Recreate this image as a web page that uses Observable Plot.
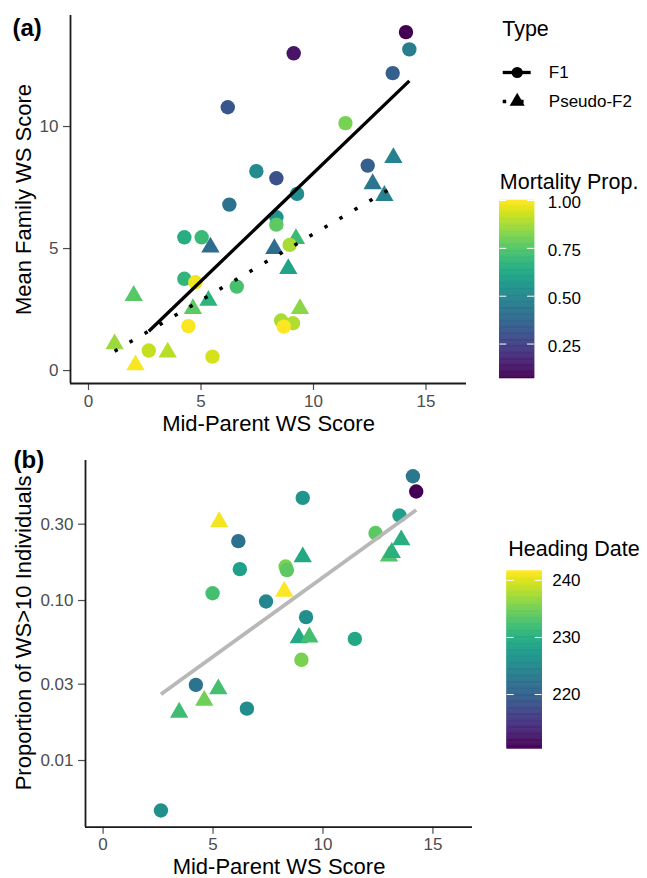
<!DOCTYPE html>
<html><head><meta charset="utf-8">
<script src="https://cdn.jsdelivr.net/npm/d3@7"></script>
<script src="https://cdn.jsdelivr.net/npm/@observablehq/plot@0.6"></script>
<style>
body{margin:0;background:#fff;}
#root{position:relative;width:647px;height:878px;overflow:hidden;background:#fff;}
#root > svg{position:absolute;}
</style></head><body><div id="root"></div>
<script>
// ---------- Panel (a) data ----------
const f1MidParent = [14.11, 9.12, 14.26, 13.52, 6.19, 11.42, 12.41, 7.46, 8.35, 9.27, 6.26, 8.35, 8.35, 4.26, 5.03, 8.94, 4.26, 4.75, 6.59, 4.44, 8.56, 9.09, 8.68, 2.68, 5.51];
const f1MeanWS    = [13.87, 13.0, 13.16, 12.19, 10.79, 10.14, 8.40, 8.17, 7.88, 7.24, 6.80, 6.28, 5.98, 5.46, 5.46, 5.15, 3.76, 3.62, 3.44, 1.82, 2.05, 1.94, 1.80, 0.82, 0.57];
const f1Mortality = [0.07, 0.12, 0.46, 0.35, 0.32, 0.81, 0.35, 0.51, 0.30, 0.52, 0.42, 0.54, 0.77, 0.65, 0.70, 0.88, 0.68, 0.98, 0.73, 0.99, 0.88, 0.89, 1.00, 0.92, 0.94];

const pf2MidParent = [13.55, 12.63, 13.15, 5.42, 8.26, 9.22, 8.88, 2.01, 5.33, 4.64, 9.40, 1.16, 3.52, 2.09];
const pf2MeanWS    = [8.72, 7.65, 7.17, 5.05, 4.99, 5.40, 4.17, 3.07, 2.87, 2.53, 2.53, 1.09, 0.75, 0.23];
const pf2Mortality = [0.48, 0.43, 0.48, 0.40, 0.40, 0.70, 0.61, 0.76, 0.67, 0.77, 0.84, 0.86, 0.90, 0.99];

// ---------- Panel (b) data ----------
const bF1MidParent = [14.09, 14.24, 9.08, 13.48, 12.39, 6.15, 6.22, 8.30, 8.36, 4.98, 7.41, 9.23, 11.45, 9.02, 4.22, 6.54, 2.63];
const bF1Prop      = [0.598, 0.48, 0.438, 0.34, 0.264, 0.235, 0.157, 0.163, 0.155, 0.111, 0.0986, 0.0787, 0.0576, 0.0426, 0.0297, 0.0211, 0.00487];
const bF1Heading   = [223, 210.5, 226.7, 228, 233.8, 222, 228, 235.4, 233.8, 232.3, 225, 226, 229.2, 235.4, 222.3, 225.7, 226];

const bPF2MidParent = [5.28, 9.08, 13.56, 13.0, 13.13, 8.24, 8.90, 9.38, 5.24, 4.60, 3.46];
const bPF2Prop      = [0.31, 0.187, 0.239, 0.189, 0.199, 0.114, 0.0584, 0.059, 0.028, 0.0237, 0.02];
const bPF2Heading   = [241, 229.2, 230.1, 233.2, 230.4, 241.6, 229.2, 232.3, 232.3, 234.8, 232];

// ---------- scales / ticks / labels ----------
const typeNames = ["F1", "Pseudo-F2"];
const xDomain = [-0.8, 16.8];
const yDomainA = [-0.53, 14.55];
const yDomainB = [0.00383, 0.75];
const xTicks = [0, 5, 10, 15];
const yTicksA = [0, 5, 10];
const yTicksB = [0.01, 0.03, 0.10, 0.30];
const mortDomain = [0.07, 1.0];
const mortTicks = [0.25, 0.50, 0.75, 1.00];
const headDomain = [210.5, 241.6];
const headTicks = [220, 230, 240];

const FONT = "'Liberation Sans', Arial, Helvetica, sans-serif";
const TICK_COL = "#4d4d4d";
const DOTTED = "3.5,13.9";

function olsLine(xs, ys, fy = v => v, inv = v => v) {
  const ly = ys.map(fy);
  const mx = d3.mean(xs), my = d3.mean(ly);
  let sxy = 0, sxx = 0;
  xs.forEach((x, i) => { sxy += (x - mx) * (ly[i] - my); sxx += (x - mx) ** 2; });
  const b = sxy / sxx, a = my - b * mx;
  const [x0, x1] = d3.extent(xs);
  return [{x: x0, y: inv(a + b * x0)}, {x: x1, y: inv(a + b * x1)}];
}
const rows = (xs, ys, cs) => xs.map((x, i) => ({x, y: ys[i], c: cs[i]}));

const root = document.getElementById("root");
function place(svg, left, top) { svg.style.left = left + "px"; svg.style.top = top + "px"; root.appendChild(svg); }
const baseStyle = {fontFamily: FONT, fontSize: "17px", background: "transparent", overflow: "visible"};

// ---------- Panel (a) ----------
const f1Rows = rows(f1MidParent, f1MeanWS, f1Mortality);
const pf2Rows = rows(pf2MidParent, pf2MeanWS, pf2Mortality);
const lineF1 = olsLine(f1MidParent, f1MeanWS);
const linePF2 = olsLine(pf2MidParent, pf2MeanWS);

const panelA = Plot.plot({
  width: 470, height: 440,
  marginLeft: 70, marginRight: 4, marginTop: 15, marginBottom: 57,
  style: baseStyle,
  x: {domain: xDomain},
  y: {domain: yDomainA},
  color: {type: "linear", scheme: "viridis", domain: mortDomain},
  marks: [
    Plot.dot(pf2Rows, {x: "x", y: "y", fill: "c", symbol: "triangle", r: 6.8}),
    Plot.dot(f1Rows, {x: "x", y: "y", fill: "c", symbol: "circle", r: 7.2}),
    Plot.line(lineF1, {x: "x", y: "y", stroke: "black", strokeWidth: 3.3, strokeLinecap: "butt"}),
    Plot.line(linePF2, {x: "x", y: "y", stroke: "black", strokeWidth: 3.5, strokeDasharray: DOTTED, strokeLinecap: "butt"}),
    Plot.axisX({ticks: xTicks, tickSize: 7, tickPadding: 4, fontSize: 17, color: TICK_COL, strokeWidth: 1.2, label: null}),
    Plot.axisY({ticks: yTicksA, tickSize: 7, tickPadding: 5, fontSize: 17, color: TICK_COL, strokeWidth: 1.2, label: null}),
    Plot.ruleX([xDomain[0]], {stroke: "#1a1a1a", strokeWidth: 1.8}),
    Plot.ruleY([yDomainA[0]], {stroke: "#1a1a1a", strokeWidth: 1.8}),
    Plot.text(["Mid-Parent WS Score"], {frameAnchor: "bottom", dy: 40, fontSize: 22, fill: "black", textAnchor: "middle", lineAnchor: "middle"}),
    Plot.text(["Mean Family WS Score"], {frameAnchor: "left", dx: -47, rotate: -90, fontSize: 22, fill: "black", textAnchor: "middle", lineAnchor: "middle"}),
    Plot.text(["(a)"], {frameAnchor: "top-left", dx: -58, dy: 3, fontSize: 24, fontWeight: "bold", fill: "black", textAnchor: "start", lineAnchor: "top"})
  ]
});
place(panelA, 0, 0);

// ---------- Panel (b) ----------
const bF1Rows = rows(bF1MidParent, bF1Prop, bF1Heading);
const bPF2Rows = rows(bPF2MidParent, bPF2Prop, bPF2Heading);
const lineB = olsLine([...bF1MidParent, ...bPF2MidParent], [...bF1Prop, ...bPF2Prop], Math.log10, v => Math.pow(10, v));

const panelB = Plot.plot({
  width: 480, height: 438,
  marginLeft: 85, marginRight: 8, marginTop: 20, marginBottom: 51.3,
  style: baseStyle,
  x: {domain: xDomain},
  y: {type: "log", domain: yDomainB},
  color: {type: "linear", scheme: "viridis", domain: headDomain},
  marks: [
    Plot.dot(bPF2Rows, {x: "x", y: "y", fill: "c", symbol: "triangle", r: 6.8}),
    Plot.dot(bF1Rows, {x: "x", y: "y", fill: "c", symbol: "circle", r: 7.2}),
    Plot.line(lineB, {x: "x", y: "y", stroke: "#b8b8b8", strokeWidth: 3.8, strokeLinecap: "butt"}),
    Plot.axisX({ticks: xTicks, tickSize: 7, tickPadding: 4, fontSize: 17, color: TICK_COL, strokeWidth: 1.2, label: null}),
    Plot.axisY({ticks: yTicksB, tickFormat: d3.format(".2f"), tickSize: 7, tickPadding: 5, fontSize: 17, color: TICK_COL, strokeWidth: 1.2, label: null}),
    Plot.ruleX([xDomain[0]], {stroke: "#1a1a1a", strokeWidth: 1.8}),
    Plot.ruleY([yDomainB[0]], {stroke: "#1a1a1a", strokeWidth: 1.8}),
    Plot.text(["Mid-Parent WS Score"], {frameAnchor: "bottom", dy: 39.5, fontSize: 22, fill: "black", textAnchor: "middle", lineAnchor: "middle"}),
    Plot.text(["Proportion of WS>10 Individuals"], {frameAnchor: "left", dx: -62, dy: -11, rotate: -90, fontSize: 22, fill: "black", textAnchor: "middle", lineAnchor: "middle"}),
    Plot.text(["(b)"], {frameAnchor: "top-left", dx: -72, dy: -10, fontSize: 24, fontWeight: "bold", fill: "black", textAnchor: "start", lineAnchor: "top"})
  ]
});
place(panelB, 0, 440);

// ---------- Type legend ----------
const legendType = Plot.plot({
  width: 157, height: 110, margin: 0,
  style: baseStyle,
  x: {domain: [0, 1], range: [12.7, 40.7], axis: null},
  y: {type: "point", domain: typeNames, range: [61.5, 91], padding: 0, axis: null},
  marks: [
    Plot.ruleY([typeNames[0]], {x1: 0, x2: 1, stroke: "black", strokeWidth: 3.3}),
    Plot.ruleY([typeNames[1]], {x1: 0, x2: 1, stroke: "black", strokeWidth: 3.5, strokeDasharray: DOTTED}),
    Plot.dot([typeNames[0]], {x: 0.5, y: d => d, symbol: "circle", r: 5.6, fill: "black"}),
    Plot.dot([typeNames[1]], {x: 0.5, y: d => d, symbol: "triangle", r: 5.6, fill: "black"}),
    Plot.text(typeNames, {x: 1, y: d => d, dx: 17.6, text: d => d, textAnchor: "start", fontSize: 17, fill: "black"}),
    Plot.text(["Type"], {frameAnchor: "top-left", dx: 11.7, dy: 25.7, lineAnchor: "bottom", textAnchor: "start", fontSize: 21.5, fill: "black"})
  ]
});
place(legendType, 490, 10);

// ---------- colour bars ----------
function colorbar(title, domain, ticks, fmt, opts) {
  const n = 150, [lo, hi] = domain;
  const bands = d3.range(n).map(i => ({y1: lo + (hi - lo) * i / n, y2: lo + (hi - lo) * (i + 1) / n, v: lo + (hi - lo) * (i + 0.5) / n}));
  return Plot.plot({
    width: 157, height: opts.height, margin: 0,
    style: baseStyle,
    x: {domain: [0, 1], range: opts.xr, axis: null},
    y: {domain, range: opts.yr, axis: null},
    color: {type: "linear", scheme: "viridis", domain},
    marks: [
      Plot.rect(bands, {x1: 0, x2: 1, y1: "y1", y2: "y2", fill: "v", stroke: "v", strokeWidth: 0.6}),
      Plot.ruleY(ticks, {x1: 0, x2: 0.2, stroke: "white", strokeWidth: 1}),
      Plot.ruleY(ticks, {x1: 0.8, x2: 1, stroke: "white", strokeWidth: 1}),
      Plot.text(ticks, {x: 1, y: d => d, dx: opts.labelDx, dy: opts.labelDy, text: d => fmt(d), textAnchor: "start", fontSize: 17, fill: "black"}),
      Plot.text([title], {frameAnchor: "top-left", dx: opts.titleX, dy: opts.titleY, lineAnchor: "bottom", textAnchor: "start", fontSize: 21.5, fill: "black"})
    ]
  });
}
place(colorbar("Mortality Prop.", mortDomain, mortTicks, d3.format(".2f"),
  {height: 225, xr: [9.3, 44], yr: [213, 35], labelDx: 13.3, labelDy: 2, titleX: 9.3, titleY: 23.5}), 490, 165);
place(colorbar("Heading Date", headDomain, headTicks, d3.format("d"),
  {height: 230, xr: [16.7, 51.7], yr: [218.3, 40.7], labelDx: 10, labelDy: 0, titleX: 17.7, titleY: 25.5}), 490, 530);
</script></body></html>
